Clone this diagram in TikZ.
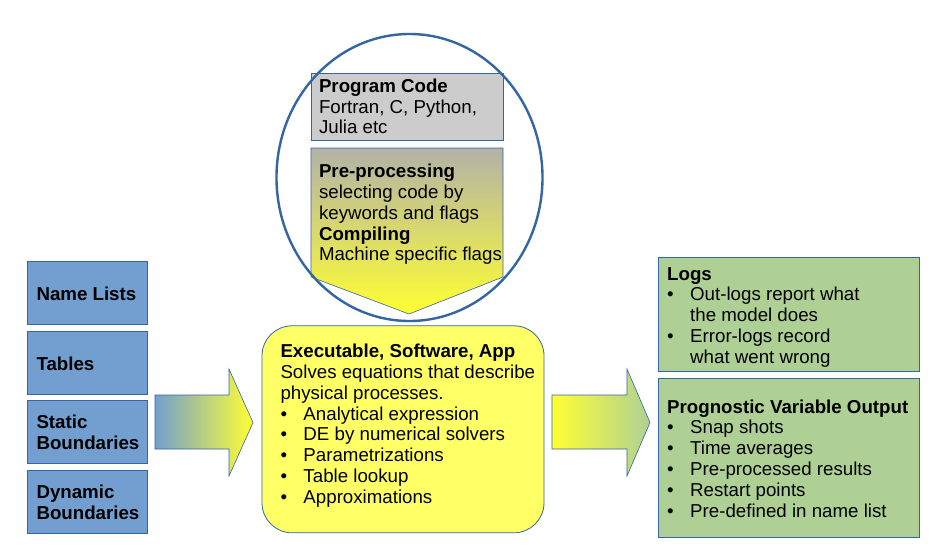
\documentclass[tikz,border=0pt]{standalone}
\usepackage{fontspec}
\setmainfont{Liberation Sans}
\usetikzlibrary{shapes.geometric}
\definecolor{bluebox}{RGB}{114,159,207}
\definecolor{blueline}{RGB}{52,101,164}
\definecolor{greenbox}{RGB}{175,208,149}
\definecolor{graybox}{RGB}{204,204,204}
\definecolor{yelbox}{RGB}{255,255,102}
\definecolor{yel}{RGB}{255,255,51}
\definecolor{pretop}{RGB}{178,178,168}
\newcommand\bul{\makebox[23pt][l]{\textbullet}}
\tikzset{
  txt/.style={anchor=base west, inner sep=0pt, xshift=0.8pt, yshift=-1pt, font=\fontsize{18.7}{20.8}\selectfont},
  inbox/.style={draw=blueline, line width=0.8pt, fill=bluebox, minimum width=120pt, minimum height=63pt, inner sep=0pt},
  outbox/.style={draw=blueline, line width=0.8pt, fill=greenbox, inner sep=0pt},
  blockarrow/.style={draw=blueline, line width=0.6pt},
}
\begin{document}
\begin{tikzpicture}[x=1pt,y=-1pt]
\useasboundingbox (0,0) rectangle (945,558);
\fill[white] (0,0) rectangle (945,558);

% top: program code box and pre-processing pentagon
\node[draw=blueline, line width=0.8pt, fill=graybox, minimum width=192pt, minimum height=67pt, inner sep=0pt] (code) at (407,106.5) {};
\path[blockarrow, top color=pretop, bottom color=yel]
  (311,148) -- (503,148) -- (503,277) -- (409,314) -- (311,277) -- cycle;
\node[txt] (codetxt) at (318,91.3) {\begin{tabular}[t]{@{}l@{}}
\textbf{Program Code}\\ Fortran, C, Python,\\ Julia etc\end{tabular}};
\node[txt] (pretxt) at (318,176.7) {\begin{tabular}[t]{@{}l@{}}
\textbf{Pre-processing}\\ selecting code by\\ keywords and flags\\ \textbf{Compiling}\\ Machine specific flags\end{tabular}};
\node[draw=blueline, line width=2.4pt, ellipse, minimum width=266pt, minimum height=287pt, inner sep=0pt] (circ) at (409.5,177.5) {};

% inputs
\node[inbox] (nl) at (87,293.3) {};
\node[inbox] (tb) at (87,362.8) {};
\node[inbox] (sb) at (87,432.3) {};
\node[inbox] (db) at (87,501.8) {};
\node[txt] (nltxt) at (35.5,299.3) {\textbf{Name Lists}};
\node[txt] (tbtxt) at (35.5,369) {\textbf{Tables}};
\node[txt] (sbtxt) at (35.5,427.7) {\begin{tabular}[t]{@{}l@{}}\textbf{Static}\\ \textbf{Boundaries}\end{tabular}};
\node[txt] (dbtxt) at (35.5,497.3) {\begin{tabular}[t]{@{}l@{}}\textbf{Dynamic}\\ \textbf{Boundaries}\end{tabular}};

% left arrow
\path[blockarrow, left color=bluebox, right color=yel]
  (155,395) -- (229,395) -- (229,369) -- (253,422.5) -- (229,476) -- (229,449) -- (155,449) -- cycle;

% executable box
\node[draw=blueline, line width=0.8pt, fill=yelbox, rounded corners=30pt, minimum width=282pt, minimum height=207pt, inner sep=0pt] (exe) at (403,429.3) {};
\node[txt] (exetxt) at (279.5,356.7) {\begin{tabular}[t]{@{}l@{}}
\textbf{Executable, Software, App}\\
Solves equations that describe\\
physical processes.\\
\bul Analytical expression\\
\bul DE by numerical solvers\\
\bul Parametrizations\\
\bul Table lookup\\
\bul Approximations\end{tabular}};

% right arrow
\path[blockarrow, left color=yel, right color=greenbox]
  (552,395) -- (627,395) -- (627,369) -- (650,422.5) -- (627,476) -- (627,449) -- (552,449) -- cycle;

% outputs
\node[outbox, minimum width=261pt, minimum height=114pt] (logs) at (788.5,314) {};
\node[outbox, minimum width=261pt, minimum height=159pt] (prog) at (788.5,457.5) {};
\node[txt] (logstxt) at (666.2,279) {\begin{tabular}[t]{@{}l@{}}
\textbf{Logs}\\
\bul Out-logs report what\\
\hspace{23pt}the model does\\
\bul Error-logs record\\
\hspace{23pt}what went wrong\end{tabular}};
\node[txt] (progtxt) at (666.2,412) {\begin{tabular}[t]{@{}l@{}}
\textbf{Prognostic Variable Output}\\
\bul Snap shots\\
\bul Time averages\\
\bul Pre-processed results\\
\bul Restart points\\
\bul Pre-defined in name list\end{tabular}};
\end{tikzpicture}
\end{document}
